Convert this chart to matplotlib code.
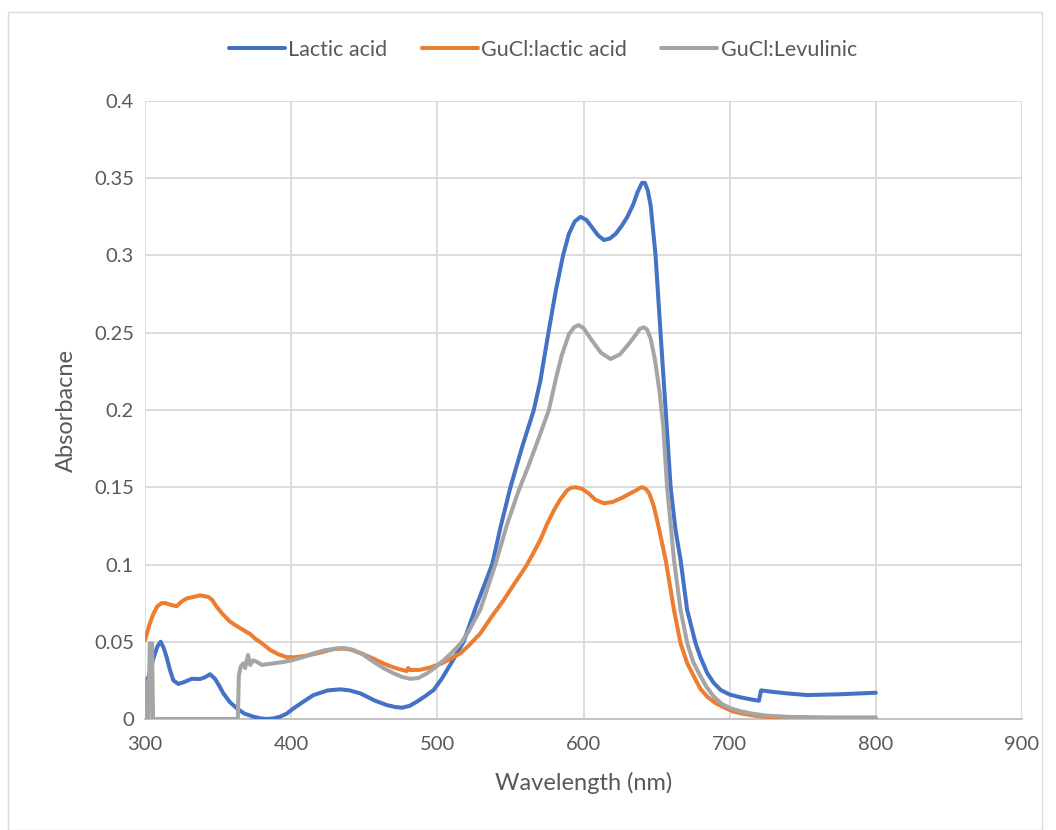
import matplotlib
matplotlib.use("Agg")
import matplotlib.pyplot as plt
from matplotlib.patches import Rectangle

# ---- data ----
wl_lactic = [300, 302.3, 306, 308.5, 310.7, 312.8, 314.8, 317, 319.4, 322.8, 327, 331.9, 337.7, 341, 344.5,
             347.9, 350.5, 353.6, 358, 362.8, 368, 374.2, 379, 383.3, 388, 392.5, 397, 401.6, 408, 415.3,
             425, 433.6, 440, 447.3, 457, 465.5, 471, 475.8, 481, 486, 492, 497.5, 503, 510, 518, 527,
             537.5, 543.2, 550, 558, 566, 570.5, 576, 581, 586, 590, 594, 598, 602, 606, 610, 614,
             618, 622, 626, 630, 634, 637, 640, 642, 644, 646, 649.3, 652.7, 656.2, 659.6, 663, 666.4,
             670.9, 676.7, 680, 684.7, 689, 693.8, 700, 707.5, 714, 720, 721.5, 730, 740, 753, 775, 800]
abs_lactic = [0.023, 0.027, 0.040, 0.047, 0.050, 0.046, 0.040, 0.032, 0.025, 0.0227, 0.024, 0.026, 0.0259, 0.027, 0.029,
              0.026, 0.022, 0.0166, 0.011, 0.0069, 0.0035, 0.0015, 0.0004, 0.0, 0.0004, 0.0015, 0.0035, 0.0069, 0.011, 0.0155,
              0.0185, 0.0192, 0.0185, 0.0166, 0.012, 0.009, 0.0078, 0.0073, 0.0085, 0.0112, 0.015, 0.0188, 0.026, 0.037, 0.050, 0.074,
              0.100, 0.124, 0.150, 0.176, 0.200, 0.219, 0.250, 0.277, 0.300, 0.314, 0.322, 0.325, 0.323, 0.318, 0.313, 0.310,
              0.311, 0.314, 0.319, 0.325, 0.333, 0.341, 0.347, 0.347, 0.342, 0.332, 0.300, 0.250, 0.200, 0.150, 0.122, 0.103,
              0.0706, 0.049, 0.040, 0.0296, 0.0235, 0.0188, 0.0158, 0.014, 0.0128, 0.0118, 0.0185, 0.0175, 0.0165, 0.0155, 0.016, 0.017]

wl_gucl_lactic = [300, 303, 305.7, 308.5, 311.4, 314, 317.1, 321.7, 325, 328.5, 333, 337.7, 343.4, 346, 349, 353,
                  358.2, 363, 367.3, 370, 372, 375.3, 380, 385.6, 391, 397, 403, 410.7, 420, 428.9, 435, 440.4,
                  448, 456.4, 463, 470, 475, 479, 480, 481.5, 488, 495.2, 503, 509, 515.8, 522, 529.5, 537, 545.4,
                  553, 558, 561.4, 566, 570.5, 575, 579.7, 584, 588.8, 591.5, 594.5, 599, 603.6, 608, 614,
                  620, 626, 632, 636, 638.5, 640.2, 642.5, 645, 648, 651, 656.2, 661.9, 666.4, 671, 675.6,
                  680, 684.7, 690, 696.1, 702, 707.5, 715, 725, 740, 760, 780, 800]
abs_gucl_lactic = [0.051, 0.061, 0.068, 0.073, 0.075, 0.075, 0.074, 0.073, 0.076, 0.078, 0.079, 0.080, 0.079, 0.077, 0.0727, 0.068,
                   0.063, 0.060, 0.0576, 0.056, 0.055, 0.052, 0.049, 0.0447, 0.042, 0.040, 0.040, 0.041, 0.043, 0.0452, 0.0456, 0.045,
                   0.0425, 0.039, 0.036, 0.0334, 0.032, 0.031, 0.033, 0.0317, 0.0318, 0.0334, 0.036, 0.039, 0.0425, 0.048, 0.0555, 0.066, 0.077,
                   0.088, 0.095, 0.100, 0.108, 0.116, 0.126, 0.135, 0.142, 0.148, 0.1497, 0.150, 0.149, 0.146, 0.142, 0.1396,
                   0.1405, 0.143, 0.146, 0.148, 0.1495, 0.150, 0.149, 0.146, 0.138, 0.126, 0.103, 0.0706, 0.049, 0.036, 0.0274,
                   0.0195, 0.0144, 0.0105, 0.0075, 0.005, 0.0037, 0.0024, 0.0013, 0.0006, 0.0002, 0.0001, 0.0]

wl_gucl_levulinic = [300, 300.8, 302.5, 303.2, 304.8, 305.5, 310, 340, 363.5, 364.2, 365.5, 367.3, 368.5,
                     370.5, 372, 374, 376.4, 380, 387.8, 394, 400.5, 408, 415.3, 423, 431.3, 437, 442.6, 449,
                     456.4, 463, 470, 476, 481.5, 487, 493, 498, 504.3, 510, 516, 521, 529.5, 539.7, 547.7,
                     555.7, 562, 568.3, 576.3, 580.8, 585, 590, 593.5, 596.6, 600, 605, 612, 618.5, 625, 632,
                     636, 638.5, 641.3, 643.5, 646, 649, 652, 654.5, 657.2, 661.9, 666.4, 671, 675, 679,
                     684, 689.2, 695, 700.7, 707.5, 715, 725, 740, 770, 800]
abs_gucl_levulinic = [0.025, 0.0, 0.0, 0.049, 0.049, 0.0, 0.0, 0.0, 0.0, 0.028, 0.034, 0.036, 0.033,
                      0.0414, 0.035, 0.038, 0.037, 0.035, 0.036, 0.0368, 0.038, 0.040, 0.0425, 0.0445, 0.0457, 0.0458, 0.0447, 0.0418,
                      0.037, 0.033, 0.0296, 0.0272, 0.026, 0.0265, 0.0296, 0.033, 0.038, 0.043, 0.049, 0.056, 0.071, 0.100, 0.126,
                      0.148, 0.163, 0.179, 0.200, 0.219, 0.235, 0.249, 0.2535, 0.255, 0.253, 0.246, 0.237, 0.233, 0.236, 0.244,
                      0.249, 0.2525, 0.2535, 0.252, 0.246, 0.232, 0.212, 0.190, 0.150, 0.103, 0.0706, 0.049, 0.037, 0.0296,
                      0.021, 0.0144, 0.0095, 0.0069, 0.005, 0.0035, 0.0022, 0.0014, 0.001, 0.001]

series_names = ["Lactic acid", "GuCl:lactic acid", "GuCl:Levulinic"]
series_colors = ["#4472C4", "#ED7D31", "#A5A5A5"]

x_ticks = [300, 400, 500, 600, 700, 800, 900]
y_ticks = [0, 0.05, 0.1, 0.15, 0.2, 0.25, 0.3, 0.35, 0.4]
y_tick_labels = ["0", "0.05", "0.1", "0.15", "0.2", "0.25", "0.3", "0.35", "0.4"]

# ---- figure ----
plt.rcParams['font.family'] = ['Lato', 'DejaVu Sans']
txt = "#595959"

fig = plt.figure(figsize=(10.56, 8.30), dpi=100)
fig.patches.append(Rectangle((8 / 1056, 0), 1034 / 1056, 818 / 830, transform=fig.transFigure,
                             fill=False, edgecolor="#d9d9d9", linewidth=1.0))
ax = fig.add_axes([145 / 1056, 1 - 719 / 830, (1022 - 145) / 1056, (719 - 101) / 830])

xs = [wl_lactic, wl_gucl_lactic, wl_gucl_levulinic]
ys = [abs_lactic, abs_gucl_lactic, abs_gucl_levulinic]
for x, y, name, c in zip(xs, ys, series_names, series_colors):
    ax.plot(x, y, color=c, linewidth=2.9, label=name, solid_joinstyle='round', solid_capstyle='round', zorder=3)

ax.set_xlim(300, 900)
ax.set_ylim(0, 0.4)
ax.set_xticks(x_ticks)
ax.set_yticks(y_ticks)
ax.set_yticklabels(y_tick_labels)
ax.grid(True, color="#d9d9d9", linewidth=1.3)
ax.set_axisbelow(True)
for s in ["left", "right", "top"]:
    ax.spines[s].set_visible(False)
ax.spines["bottom"].set_color("#bfbfbf")
ax.spines["bottom"].set_linewidth(1.3)
ax.tick_params(axis='both', length=0, labelsize=14.5, colors=txt)
ax.tick_params(axis='y', pad=8)
ax.tick_params(axis='x', pad=12)

ax.set_xlabel("Wavelength (nm)", fontsize=17, color=txt, labelpad=14)
ax.set_ylabel("Absorbacne", fontsize=17, color=txt, labelpad=12)

fig.legend(loc="center", bbox_to_anchor=(543 / 1056, 1 - 50 / 830), ncol=3, frameon=False,
           fontsize=15.5, labelcolor=txt, handlelength=2.6, handletextpad=0.15, columnspacing=1.6)

fig.savefig("out.png", dpi=100, facecolor="white")
